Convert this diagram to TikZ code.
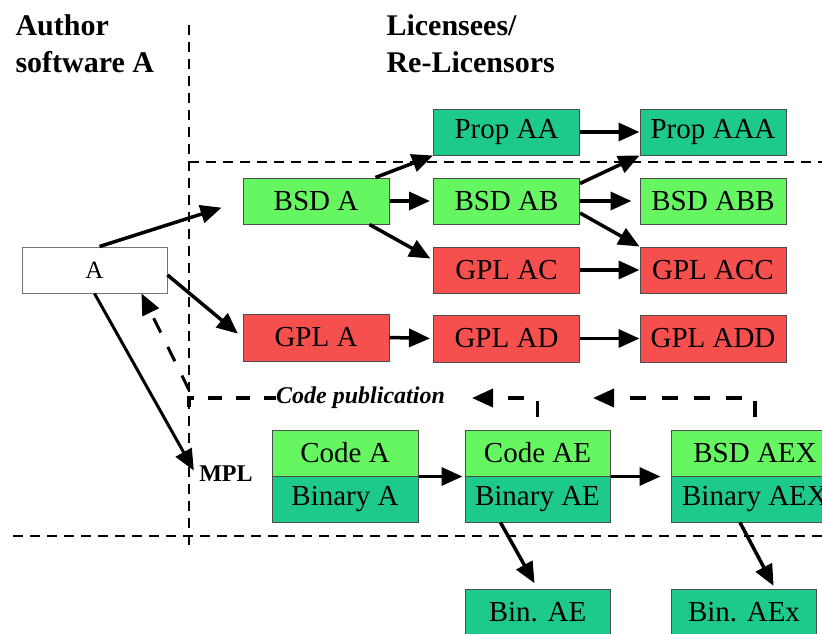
\documentclass[tikz,border=0pt]{standalone}
\usepackage{fontspec}
\setmainfont{Liberation Serif}
\usepackage{tikz}
\usetikzlibrary{arrows.meta}
\definecolor{bsdgreen}{RGB}{102,246,98}
\definecolor{propteal}{RGB}{30,201,140}
\definecolor{gplred}{RGB}{246,80,78}

\begin{document}
\begin{tikzpicture}[x=1pt,y=-1pt,
    lic/.style={draw=black!70,line width=1pt,minimum width=146pt,minimum height=46pt,inner sep=0pt,font=\fontsize{29}{32}\selectfont},
    bsd/.style={lic,fill=bsdgreen},
    prop/.style={lic,fill=propteal},
    gpl/.style={lic,fill=gplred},
    flow/.style={line width=3.5pt,-{Triangle[length=21pt,width=18pt]}},
    pubarrow/.style={line width=3.5pt,dash pattern=on 16pt off 16pt,-{Triangle[length=21pt,width=18pt]}},
    grid/.style={line width=1.5pt,dash pattern=on 10pt off 7pt}]
    \clip (0,0) rectangle (822,634);
    \fill[white] (0,0) rectangle (822,634);
    % dividing lines
    \draw[grid] (189,25)--(189,552);
    \draw[grid] (189,162)--(822,162);
    \draw[grid] (13,536)--(822,536);
    % headings
    \node[anchor=north west,align=left,font=\bfseries\fontsize{30}{37}\selectfont] (author) at (12,11) {Author\\software A};
    \node[anchor=north west,align=left,font=\bfseries\fontsize{30}{37}\selectfont] (licensees) at (383,11) {Licensees/\\Re-Licensors};
    % author
    \node[lic,draw=black!55,fill=white,minimum width=145pt,font=\fontsize{25}{28}\selectfont] (A) at (94.5,270) {A};
    % licensees
    \node[bsd] (BSDA) at (316,201) {BSD A};
    \node[gpl,minimum height=47pt] (GPLA) at (316,337.5) {GPL A};
    \node[prop] (PropAA) at (506.5,132) {Prop AA};
    \node[prop] (PropAAA) at (713,132) {Prop AAA};
    \node[bsd] (BSDAB) at (506.5,201) {BSD AB};
    \node[bsd] (BSDABB) at (713,201) {BSD ABB};
    \node[gpl] (GPLAC) at (506.5,270) {GPL AC};
    \node[gpl] (GPLACC) at (713,270) {GPL ACC};
    \node[gpl,minimum height=47pt] (GPLAD) at (506.5,338.5) {GPL AD};
    \node[gpl,minimum height=47pt] (GPLADD) at (713,338.5) {GPL ADD};
    % MPL branch
    \node[font=\bfseries\fontsize{24}{28}\selectfont] (MPL) at (226,474) {MPL};
    \node[bsd] (CodeA) at (345,453) {Code A};
    \node[prop] (BinA) at (345,499) {Binary A};
    \node[bsd,minimum width=145pt] (CodeAE) at (537.5,453) {Code AE};
    \node[prop,minimum width=145pt] (BinAE) at (537.5,499) {Binary AE};
    \node[bsd,minimum width=168pt] (BSDAEX) at (755,453) {BSD AEX};
    \node[prop,minimum width=168pt] (BinAEX) at (755,499) {Binary AEX};
    \node[prop,minimum width=145pt] (BinAEs) at (537.5,612) {Bin. AE};
    \node[prop,minimum width=145pt] (BinAExs) at (744,612) {Bin. AEx};
    % code publication
    \coordinate (cpub) at (189,398);
    \node[anchor=west,inner sep=0pt,font=\bfseries\itshape\fontsize{24}{28}\selectfont] (pubtxt) at (276,398) {Code publication};
    \coordinate (tipAE) at (472,398);
    \coordinate (tipAEX) at (593,398);
    \draw[line width=3.5pt,dash pattern=on 14pt off 14pt] ([yshift=-9pt]cpub)--(cpub)--(pubtxt.west);
    \draw[pubarrow] ([yshift=13pt]CodeAE.north) |- (tipAE);
    \draw[pubarrow] ([yshift=13pt]BSDAEX.north) |- (tipAEX);
    \draw[pubarrow,line width=3pt] ([yshift=8pt]cpub)--([xshift=-26pt]A.south east);
    % arrows
    \draw[flow,shorten >=22pt] ([xshift=5pt]A.north)--(BSDA.west);
    \draw[flow,shorten >=6pt] ([yshift=-5pt]A.east)--(GPLA.west);
    \draw[flow,line width=3pt,shorten >=4pt] (A.south)--(MPL.west);
    \draw[flow,shorten >=3pt] (BSDA.east)--(BSDAB.west);
    \draw[flow] ([xshift=-14pt]BSDA.north east)--(PropAA.south west);
    \draw[flow,shorten >=3pt] ([xshift=-20pt]BSDA.south east)--([yshift=10pt]GPLAC.west);
    \draw[flow] (PropAA.east)--(PropAAA.west);
    \draw[flow] ([yshift=-6pt]BSDAB.north east)--(PropAAA.south west);
    \draw[flow,shorten >=8pt] (BSDAB.east)--(BSDABB.west);
    \draw[flow] ([yshift=-12pt]BSDAB.east)--(GPLACC.north west);
    \draw[flow] (GPLAC.east)--(GPLACC.west);
    \draw[flow,shorten >=3pt] (GPLA.east)--(GPLAD.west);
    \draw[flow] (GPLAD.east)--(GPLADD.west);
    \draw[flow,shorten >=2pt] (CodeA.south east)--(CodeAE.south west);
    \draw[flow,shorten >=10pt] (CodeAE.south east)--(BSDAEX.south west);
    \draw[flow,shorten >=6pt] ([xshift=-37pt]BinAE.south)--(BinAEs.north);
    \draw[flow,shorten >=3pt] ([xshift=-15pt]BinAEX.south)--([xshift=31pt]BinAExs.north);
\end{tikzpicture}
\end{document}
